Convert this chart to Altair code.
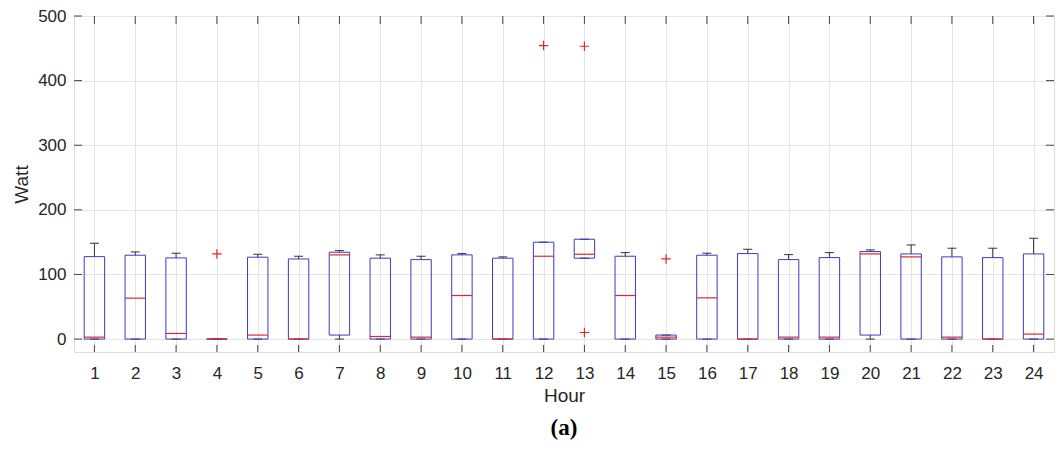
import altair as alt
import pandas as pd

hours = list(range(1, 25))
q1 = [0, 0, 0, 0, 0, 0, 6.2, 0, 0, 0, 0, 0, 125.2, 0, 0, 0, 0, 0, 0, 6.2, 0, 0, 0, 0]
median = [3, 63.3, 8.7, 0, 6.2, 0, 130.3, 4, 3, 67.4, 0, 128.2, 131.3, 67.4, 3, 63.8, 0, 3, 3, 131.8, 127.2, 3, 0, 7.7]
q3 = [127.6, 129.8, 125.6, 0, 126.7, 124, 134.4, 125.2, 123, 130.3, 125.2, 149.9, 154.5, 128.2, 6.2, 129.8, 132.3, 123, 126.1, 135.4, 131.8, 127.2, 126.1, 131.8]
lower_whisker = [0, 0, 0, 0, 0, 0, 0, 0, 0, 0, 0, 0, 125.2, 0, 0, 0, 0, 0, 0, 0, 0, 0, 0, 0]
upper_whisker = [148.3, 134.9, 132.9, 0, 131.3, 128.2, 136.9, 130.3, 128.2, 132.3, 127.2, 149.9, 154.5, 133.8, 6.2, 132.9, 139, 130.7, 133.8, 138, 145.7, 140.6, 140.6, 156]
outlier_hours = [4, 12, 13, 13, 15]
outlier_values = [131.8, 454.3, 453.2, 10.2, 124]
y_ticks = [0, 100, 200, 300, 400, 500]

df = pd.DataFrame({"hour": hours, "q1": q1, "median": median, "q3": q3,
                   "lw": lower_whisker, "uw": upper_whisker})
df["lo"] = df["hour"] - 0.25
df["hi"] = df["hour"] + 0.25
df["clo"] = df["hour"] - 0.11
df["chi"] = df["hour"] + 0.11
out_df = pd.DataFrame({"hour": outlier_hours, "value": outlier_values})
yt_df = pd.DataFrame({"v": y_ticks})

W, H = 980, 336
xs = alt.Scale(domain=[0.5, 24.5], nice=False, zero=False)
ys = alt.Scale(domain=[-20, 500], nice=False, zero=False)
FONT = "Liberation Sans"
TXT = "#262626"
GRID = "#e4e4e4"
RED = "#e0282a"
BLUE = "#3b3bc4"
WHISK = "#333333"

x_axis = alt.Axis(values=hours, title="Hour", grid=True, gridColor=GRID, tickSize=0,
                  domain=False, labelPadding=13, labelFontSize=17, labelFont=FONT,
                  labelColor=TXT, titleFont=FONT, titleFontSize=19, titleColor=TXT,
                  titleFontWeight="normal", titlePadding=5)
y_axis = alt.Axis(values=y_ticks, title="Watt", grid=True, gridColor=GRID, tickSize=0,
                  domain=False, labelPadding=8, labelFontSize=17, labelFont=FONT,
                  labelColor=TXT, titleFont=FONT, titleFontSize=19, titleColor=TXT,
                  titleFontWeight="normal", titlePadding=6)

base = alt.Chart(df)

upper_wh = base.mark_rule(color=WHISK, stroke=WHISK, strokeWidth=1).encode(
    x=alt.X("hour:Q", scale=xs, axis=x_axis), y=alt.Y("q3:Q", scale=ys, axis=y_axis), y2="uw:Q")
lower_wh = base.mark_rule(color=WHISK, stroke=WHISK, strokeWidth=1).encode(
    x=alt.X("hour:Q", scale=xs), y=alt.Y("lw:Q", scale=ys), y2="q1:Q")
cap_up = base.mark_rule(color=WHISK, stroke=WHISK, strokeWidth=1).encode(
    x=alt.X("clo:Q", scale=xs), x2="chi:Q", y=alt.Y("uw:Q", scale=ys))
cap_lo = base.mark_rule(color=WHISK, stroke=WHISK, strokeWidth=1).encode(
    x=alt.X("clo:Q", scale=xs), x2="chi:Q", y=alt.Y("lw:Q", scale=ys))
boxes = base.mark_rect(fill="white", fillOpacity=0, stroke=BLUE, strokeWidth=1).encode(
    x=alt.X("lo:Q", scale=xs), x2="hi:Q", y=alt.Y("q1:Q", scale=ys), y2="q3:Q")
med = base.mark_rule(color=RED, stroke=RED, strokeWidth=1.2).encode(
    x=alt.X("lo:Q", scale=xs), x2="hi:Q", y=alt.Y("median:Q", scale=ys))
outl = alt.Chart(out_df).mark_point(
    shape="M-1,0L1,0M0,-1L0,1", filled=False, color=RED, stroke=RED, size=90,
    strokeWidth=1.2, opacity=1
).encode(x=alt.X("hour:Q", scale=xs), y=alt.Y("value:Q", scale=ys))

# inward ticks
tick_col = "#444444"
bot_ticks = alt.Chart(df).mark_rule(color=tick_col).encode(
    x=alt.X("hour:Q", scale=xs), y=alt.value(H), y2=alt.value(H - 7))
top_ticks = alt.Chart(df).mark_rule(color=tick_col).encode(
    x=alt.X("hour:Q", scale=xs), y=alt.value(0), y2=alt.value(8))
left_ticks = alt.Chart(yt_df).mark_rule(color=tick_col).encode(
    y=alt.Y("v:Q", scale=ys), x=alt.value(0), x2=alt.value(8))
right_ticks = alt.Chart(yt_df).mark_rule(color=tick_col).encode(
    y=alt.Y("v:Q", scale=ys), x=alt.value(W), x2=alt.value(W - 8))

chart = alt.layer(upper_wh, lower_wh, cap_up, cap_lo, boxes, med, outl,
                  bot_ticks, top_ticks, left_ticks, right_ticks).properties(
    width=W, height=H,
    title=alt.TitleParams("(a)", orient="bottom", font="Liberation Serif", fontSize=23,
                          fontWeight="bold", color="#000000", offset=12),
    autosize=alt.AutoSizeParams(type="none"),
    padding={"left": 66, "top": 8, "right": 2, "bottom": 100},
).configure_view(stroke="#555555", strokeWidth=1).configure(background="white")

chart.save("out.html", embed_options={"renderer": "svg", "actions": False})
